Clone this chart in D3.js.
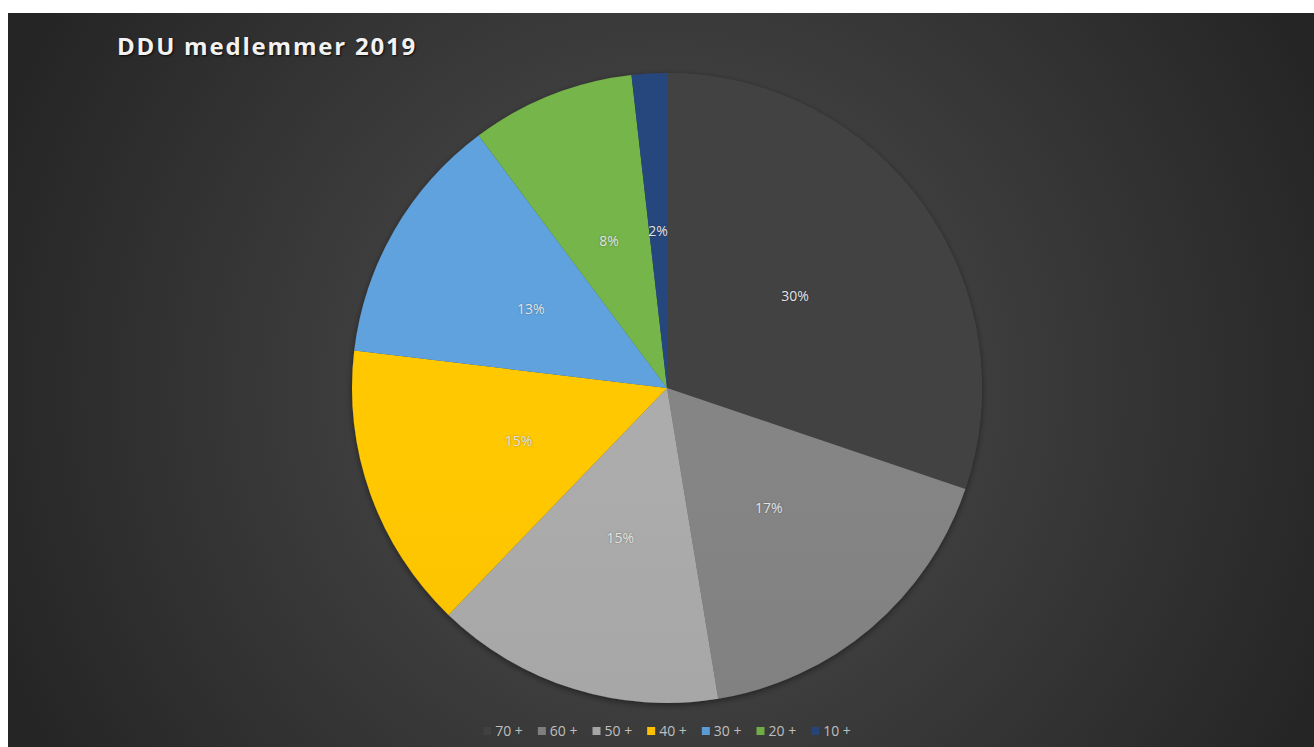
<!DOCTYPE html>
<html>
<head>
<meta charset="utf-8">
<script src="https://cdn.jsdelivr.net/npm/d3@7"></script>
<style>
  html, body { margin: 0; padding: 0; background: #fff; }
  svg { display: block; }
</style>
</head>
<body>
<script>
'use strict';

var categories = ['70 +', '60 +', '50 +', '40 +', '30 +', '20 +', '10 +'];
var shares = [30.2, 17.2, 14.8, 14.7, 12.9, 8.4, 1.8];
var colors = ['#404040', '#7f7f7f', '#a5a5a5', '#ffc000', '#5b9bd5', '#70ad47', '#264478'];
var title = 'DDU medlemmer 2019';

var W = 1314, H = 747;
var cx = 667, cy = 388, R = 315;

var svg = d3.select('body').append('svg').attr('width', W).attr('height', H);
var defs = svg.append('defs');

// chart area background
var bg = defs.append('radialGradient').attr('id', 'bg')
  .attr('gradientUnits', 'userSpaceOnUse')
  .attr('cx', cx).attr('cy', cy).attr('r', 720);
bg.append('stop').attr('offset', '0%').attr('stop-color', '#505050');
bg.append('stop').attr('offset', '100%').attr('stop-color', '#252525');

svg.append('rect').attr('x', 8).attr('y', 13).attr('width', W - 8).attr('height', H - 13)
  .attr('fill', 'url(#bg)');

var shadow = defs.append('filter').attr('id', 'shadow')
  .attr('x', '-10%').attr('y', '-10%').attr('width', '120%').attr('height', '120%');
shadow.append('feDropShadow').attr('dx', 0).attr('dy', 2).attr('stdDeviation', 3)
  .attr('flood-color', '#000').attr('flood-opacity', 0.45);

// gradient fill per slice, a bit lighter at top
colors.forEach(function (c, i) {
  var g = defs.append('linearGradient').attr('id', 'fill' + i)
    .attr('gradientUnits', 'userSpaceOnUse')
    .attr('x1', 0).attr('y1', cy - R).attr('x2', 0).attr('y2', cy + R);
  g.append('stop').attr('offset', '0%').attr('stop-color', d3.color(c).brighter(0.12));
  g.append('stop').attr('offset', '100%').attr('stop-color', d3.color(c).darker(0.12));
});

var pie = d3.pie().sort(null).value(function (d) { return d; });
var arc = d3.arc().innerRadius(0).outerRadius(R);
var labelArc = d3.arc().innerRadius(R * 0.5).outerRadius(R * 0.5);
var arcs = pie(shares);

var g = svg.append('g').attr('transform', 'translate(' + cx + ',' + cy + ')');

g.append('g').attr('filter', 'url(#shadow)')
  .selectAll('path').data(arcs).enter().append('path')
  .attr('d', arc)
  .attr('fill', function (d, i) { return 'url(#fill' + i + ')'; });

g.selectAll('.lbl').data(arcs).enter().append('text')
  .attr('class', 'lbl')
  .attr('transform', function (d) { return 'translate(' + labelArc.centroid(d) + ')'; })
  .attr('dy', '0.35em')
  .attr('text-anchor', 'middle')
  .style('font-family', '"Open Sans", sans-serif')
  .style('font-size', '14px')
  .style('fill', '#e3e3e3')
  .style('text-shadow', '0 0 2px rgba(0,0,0,0.35)')
  .text(function (d) { return Math.round(d.data) + '%'; });

// title
svg.append('text')
  .attr('x', 117).attr('y', 55)
  .style('font-family', '"Open Sans", sans-serif')
  .style('font-weight', 'bold')
  .style('font-size', '24px')
  .style('letter-spacing', '1.8px')
  .style('fill', '#f2f2f2')
  .style('text-shadow', '1px 1px 2px rgba(0,0,0,0.8)')
  .text(title);

// legend
var legend = svg.append('g');
var items = legend.selectAll('g').data(categories).enter().append('g');
items.append('rect').attr('width', 8).attr('height', 8).attr('y', -4)
  .attr('fill', function (d, i) { return colors[i]; });
items.append('text').attr('x', 12).attr('dy', '0.35em')
  .style('font-family', '"Open Sans", sans-serif')
  .style('font-size', '14px')
  .style('fill', '#bfbfbf')
  .text(function (d) { return d; });

var x = 0;
items.each(function () {
  var w = 12 + d3.select(this).select('text').node().getComputedTextLength();
  d3.select(this).attr('transform', 'translate(' + x + ',0)');
  x += w + 15;
});
x -= 15;
legend.attr('transform', 'translate(' + (cx - x / 2) + ',731)');
</script>
</body>
</html>
